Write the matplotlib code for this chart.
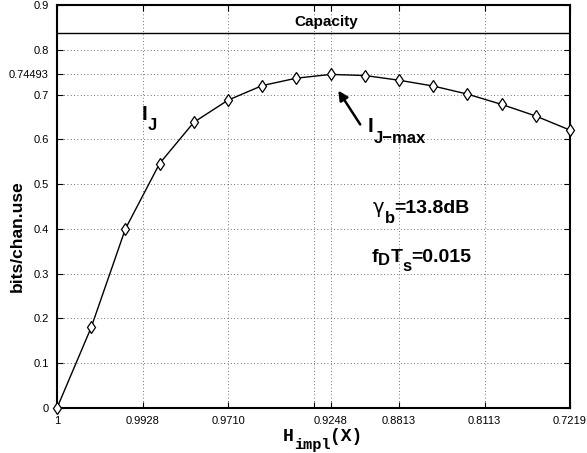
import matplotlib
matplotlib.use('Agg')
import matplotlib.pyplot as plt
import numpy as np

plt.rcParams['font.family'] = 'Liberation Sans'

# data
idx = np.arange(16)
I_J = [0.0, 0.18, 0.40, 0.546, 0.638, 0.6875, 0.720, 0.7366, 0.74493,
       0.7425, 0.732, 0.719, 0.701, 0.678, 0.652, 0.6205]
capacity = 0.837
xtick_pos = [0, 2.5, 5, 7.5, 8, 10, 12.5, 15]
xtick_lab = ['1', '0.9928', '0.9710', '', '0.9248', '0.8813', '0.8113', '0.7219']
ytick_pos = [0, 0.1, 0.2, 0.3, 0.4, 0.5, 0.6, 0.7, 0.74493, 0.8, 0.9]
ytick_lab = ['0', '0.1', '0.2', '0.3', '0.4', '0.5', '0.6', '0.7', '0.74493', '0.8', '0.9']

fig = plt.figure(figsize=(5.87, 4.53), dpi=100)
ax = fig.add_axes([0.0971, 0.0993, 0.874, 0.8897])
renderer = fig.canvas.get_renderer()


def rich(x, y, parts, trans=None, family='Liberation Sans'):
    # put text pieces one after another, each (text, size, dy in points[, weight])
    off = 0.0
    for p in parts:
        s, size, dy = p[:3]
        w = p[3] if len(p) > 3 else 'bold'
        fam = p[4] if len(p) > 4 else family
        t = ax.annotate(s, (x, y), xycoords=trans or 'data', xytext=(off, dy),
                        textcoords='offset points', fontsize=size, fontweight=w,
                        family=fam, ha='left', va='baseline', annotation_clip=False)
        off += t.get_window_extent(renderer).width * 72.0 / fig.dpi


ax.plot(idx, I_J, 'k-', lw=1, marker='d', mfc='white', mec='k', ms=6, mew=0.9,
        clip_on=False, zorder=3)
ax.axhline(capacity, color='k', lw=1)

ax.set_xlim(0, 15)
ax.set_ylim(0, 0.9)
ax.set_xticks(xtick_pos)
ax.set_xticklabels(xtick_lab, fontsize=8)
ax.set_yticks(ytick_pos)
ax.set_yticklabels(ytick_lab, fontsize=8)
ax.tick_params(direction='in', top=True, right=True, length=4, width=0.8, pad=6)
ax.grid(True, linestyle=(0, (1, 3)), color='#444444', lw=0.6)
for s in ax.spines.values():
    s.set_linewidth(1.5)

ax.set_ylabel('bits/chan.use', fontsize=12.5, fontweight='bold')
ax.yaxis.set_label_coords(-0.0624, 0.427)

# x label: H_impl(X) in bold monospace
rich(0.4405, -0.083, [('H', 13, 0), ('impl', 11, -5.5), ('(X)', 13, 0)],
     trans=ax.transAxes, family='Liberation Mono')

ax.text(7.87, 0.862, 'Capacity', fontsize=11, fontweight='bold', ha='center', va='center')
rich(2.48, 0.643, [('I', 15, 0), ('J', 12, -7)])
rich(9.09, 0.616, [('I', 15, 0), ('J\u2212max', 12, -8)])
ax.annotate('', xy=(8.18, 0.714), xytext=(8.91, 0.628),
            arrowprops=dict(arrowstyle='-|>', color='k', lw=1.8, mutation_scale=14))
rich(9.24, 0.4346, [('\u03b3', 14, 0, 'normal', 'DejaVu Sans'), ('b', 12, -7),
                    ('=13.8dB', 14, 0)])
rich(9.2, 0.3266, [('f', 14, 0), ('D', 12, -2.5), ('T', 14, 0), ('s', 12, -7),
                   ('=0.015', 14, 0)])

fig.savefig('out.png', dpi=100)
